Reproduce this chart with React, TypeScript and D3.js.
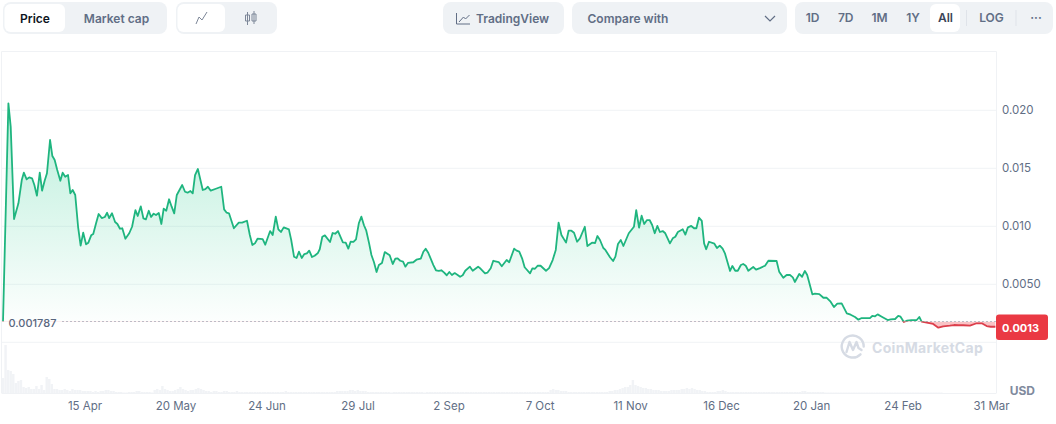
import * as d3 from "d3";
import { useEffect, useRef } from "react";

// days since the first sample
const days = [
  0, 2.1, 3, 4.3, 6, 7.3, 8.1, 9.2, 10.2, 11.3, 12.2, 13.2, 14.3, 15.2, 16.2, 17.1, 18.3, 19.2, 20.1, 21.1,
  22.3, 23.2, 24.2, 25.3, 26.2, 27.1, 28.1, 29.2, 30.2, 31.2, 32.3, 33.2, 34.3, 35.1, 36.2, 37.2, 38.4, 39.6, 40.5, 41.3,
  42.4, 43.6, 44.5, 45.5, 46.4, 47.6, 49.1, 50.2, 51.5, 52.4, 53.6, 54.6, 55.6, 56.7, 57.6, 58.6, 59.5, 60.6, 61.6, 62.5,
  63.5, 64.6, 65.6, 66.6, 67.6, 69.7, 70.8, 71.8, 72.9, 73.8, 74.7, 75.8, 77.7, 78.7, 79.7, 80.8, 82.8, 84.9, 86, 87,
  87.9, 89.8, 91.7, 93, 94.9, 96, 97, 98, 99, 101, 102, 103.9, 104.9, 106.1, 107.1, 108.1, 109.2, 111.2, 112.1, 113.2,
  114.2, 115.1, 116.2, 117.2, 118.2, 119.1, 120.2, 121.2, 122.4, 123.2, 124.2, 125.2, 127.2, 128.2, 129.2, 130.3, 132.2, 133.3, 134.3, 135.2,
  136.3, 137.3, 138.4, 139.4, 140.4, 141.3, 142.4, 143.3, 144.3, 145.3, 146.2, 147.4, 148.5, 150.4, 151.6, 152.6, 153.5, 154.5, 155.6, 156.5,
  157.5, 159.6, 160.8, 162.5, 163.5, 164.4, 165.4, 167.4, 168.4, 169.5, 170.5, 171.5, 172.6, 173.6, 174.6, 175.7, 176.7, 177.8, 178.8, 179.8,
  181.6, 182.7, 184.8, 185.8, 187.5, 188.4, 189.7, 190.7, 192.8, 194, 195.9, 196.9, 198.8, 199.8, 200.8, 201.9, 202.9, 205, 205.9, 206.9,
  208, 209.1, 211.2, 212.4, 213.8, 215, 216.1, 217.2, 219, 220, 221.1, 222.1, 223.3, 224.4, 226.3, 227.3, 229.1, 230.3, 231.2, 232.2,
  233.5, 234.3, 236.1, 237.3, 238.2, 239.2, 240.3, 241.3, 243.4, 245.4, 246.3, 247.4, 248.4, 249.4, 250.5, 251.5, 252.5, 253.5, 254.5, 255.5,
  256.6, 257.6, 259.4, 260.5, 261.5, 262.5, 264.4, 265.4, 266.4, 267.7, 268.8, 269.7, 270.7, 271.8, 272.7, 273.5, 274.6, 276.7, 277.7, 278.8,
  279.9, 280.8, 282.8, 283.7, 284.8, 285.8, 287, 287.9, 288.9, 289.9, 291.8, 292.9, 294.4, 296.4, 297.7, 300.9, 301.9, 303.5, 304.8, 306.1,
  307.2, 308, 309.7, 310.8, 311.9, 312.8, 314.8, 315.8, 317.5, 319.1, 320.4, 321.9, 323.2, 324.5, 326.2, 328.2, 329.7, 331.4, 332.7, 334,
  337.2, 338.1, 339.2, 340.2, 341.8, 344.1, 345.3, 347, 348.2, 349.1, 350.4, 351.5, 353.4, 355.4, 356.4, 357.3, 359.3, 361.8, 363.8, 365.7,
  368.3, 369.9, 371.6, 373.5, 376.1, 378.7, 380.7, 382.6, 384.2, 386,
];

const prices = [
  0.00179, 0.0206, 0.01858, 0.01063, 0.01198, 0.01399, 0.01462, 0.01405, 0.01422, 0.01414, 0.01356, 0.01264, 0.01462, 0.01307, 0.01393, 0.01457, 0.01744, 0.01606, 0.01571, 0.01485,
  0.01393, 0.01462, 0.01427, 0.01442, 0.01284, 0.01313, 0.0127, 0.00996, 0.00833, 0.00945, 0.00845, 0.00859, 0.00922, 0.00934, 0.01026, 0.01106, 0.01071, 0.0108, 0.01117, 0.01071,
  0.01112, 0.01037, 0.0102, 0.00979, 0.00983, 0.00893, 0.0094, 0.00996, 0.0114, 0.01089, 0.01172, 0.01069, 0.0106, 0.01134, 0.0108, 0.01109, 0.01097, 0.01115, 0.0102, 0.01152,
  0.01134, 0.01233, 0.01169, 0.01112, 0.0127, 0.01356, 0.01298, 0.0129, 0.01304, 0.01284, 0.01442, 0.01494, 0.01313, 0.01321, 0.01341, 0.01307, 0.01324, 0.01341, 0.01146, 0.01117,
  0.01112, 0.00983, 0.01031, 0.01031, 0.01048, 0.00925, 0.00839, 0.00853, 0.00893, 0.0089, 0.00841, 0.00959, 0.00925, 0.01083, 0.00974, 0.00951, 0.00991, 0.00974, 0.00882, 0.00738,
  0.00727, 0.00781, 0.00727, 0.00761, 0.00767, 0.0079, 0.00735, 0.00746, 0.00767, 0.00802, 0.0091, 0.00922, 0.00865, 0.00942, 0.00936, 0.00959, 0.00862, 0.00859, 0.00807, 0.00867,
  0.00865, 0.00888, 0.01026, 0.01083, 0.01009, 0.00962, 0.00853, 0.00753, 0.0069, 0.00606, 0.00666, 0.00684, 0.00778, 0.0075, 0.00675, 0.00721, 0.00724, 0.00703, 0.00695, 0.00652,
  0.00684, 0.0069, 0.00712, 0.00721, 0.00781, 0.00807, 0.00772, 0.00666, 0.00621, 0.00615, 0.00621, 0.00603, 0.00578, 0.00606, 0.0058, 0.00597, 0.00583, 0.00565, 0.00578, 0.00617,
  0.00652, 0.00617, 0.00652, 0.00634, 0.00595, 0.006, 0.00638, 0.00703, 0.00692, 0.00655, 0.00709, 0.0069, 0.00807, 0.0079, 0.00781, 0.00724, 0.00647, 0.00595, 0.00638, 0.00634,
  0.0066, 0.0066, 0.00617, 0.0064, 0.00709, 0.00796, 0.01031, 0.00925, 0.00859, 0.00962, 0.00962, 0.00945, 0.00867, 0.00896, 0.00996, 0.0083, 0.00859, 0.00856, 0.00916, 0.00882,
  0.00813, 0.00796, 0.00733, 0.00701, 0.00738, 0.00847, 0.00882, 0.0083, 0.0094, 0.00996, 0.0114, 0.00988, 0.01091, 0.0102, 0.01054, 0.01054, 0.01011, 0.0094, 0.01003, 0.00951,
  0.00959, 0.0094, 0.00853, 0.00896, 0.0091, 0.00951, 0.00974, 0.00928, 0.00991, 0.01003, 0.00983, 0.00983, 0.01074, 0.01046, 0.00853, 0.00802, 0.00867, 0.0085, 0.00813, 0.00833,
  0.00807, 0.00767, 0.00615, 0.00658, 0.00617, 0.00617, 0.00666, 0.00675, 0.0066, 0.00617, 0.00649, 0.00626, 0.0064, 0.0066, 0.00703, 0.00701, 0.00609, 0.00557, 0.0058, 0.0058,
  0.0056, 0.0052, 0.00589, 0.00565, 0.00615, 0.0058, 0.00414, 0.00419, 0.00416, 0.00384, 0.00384, 0.0035, 0.00304, 0.00333, 0.00336, 0.0025, 0.00238, 0.00218, 0.00195, 0.00209,
  0.00209, 0.00227, 0.00224, 0.00241, 0.00221, 0.00192, 0.00198, 0.00201, 0.00227, 0.00221, 0.00175, 0.00186, 0.00192, 0.00192, 0.00218, 0.00178, 0.00169, 0.00158, 0.00126, 0.00138,
  0.00143, 0.00149, 0.00147, 0.00147, 0.00143, 0.00164, 0.00164, 0.0014, 0.00134, 0.00134,
];

// daily volume, in the bottom panel
const volumes = [
  15, 48, 23, 22, 19, 10, 12, 13, 6, 5, 6, 4, 4, 7, 4, 8, 3, 16, 14, 9,
  4, 4, 3, 3, 4, 3, 2, 4, 3, 3, 3, 2, 2, 2, 2, 1, 2, 1, 2, 2,
  3, 3, 2, 2, 1, 1, 1, 0.5, 0.5, 1, 1, 1, 2, 2, 1, 1, 1, 1, 0.5, 3,
  4, 3, 7, 4, 3, 2, 2, 3, 4, 6, 4, 3, 2, 3, 3, 4, 5, 4, 3, 2,
  2, 1, 2, 2, 1, 1, 2, 2, 1, 1, 1, 2, 1, 1, 1, 1, 1, 1, 1, 1,
  1, 1, 1, 1, 1, 1, 1, 1, 1, 1, 2, 1, 1, 1, 1, 1, 1, 1, 1, 1,
  1, 1, 1, 1, 1, 1, 1, 1, 1, 1, 2, 2, 2, 2, 2, 3, 3, 2, 3, 2,
  2, 2, 1, 1, 1, 1, 1, 1, 1, 1, 1, 0.5, 1, 1, 1, 1, 1, 1, 1, 1,
  1, 1, 1, 1, 0.5, 1, 1, 1, 1, 1, 1, 1, 1, 1, 1, 1, 1, 1, 1, 1,
  1, 1, 1, 1, 1, 1, 1, 1, 1, 1, 1, 1, 1, 1, 1, 1, 1, 1, 1, 1,
  1, 1, 1, 1, 1, 1, 1, 1, 1, 1, 1, 1, 1, 3, 4, 3, 3, 2, 2, 2,
  1, 1, 1, 1, 1, 1, 1, 1, 1, 1, 1, 1, 1, 1, 1, 1, 2, 2, 3, 3,
  4, 5, 6, 6, 8, 13, 8, 7, 6, 5, 5, 4, 4, 3, 3, 3, 2, 2, 2, 2,
  3, 3, 3, 3, 4, 4, 5, 4, 5, 4, 3, 3, 2, 2, 1, 1, 1, 1, 2, 2,
  3, 2, 1, 1, 1, 1, 1, 1, 1, 1, 1, 1, 1, 1, 1, 1, 1, 1, 1, 1,
  1, 1, 1, 1, 1, 1, 1, 1, 1, 1, 1, 2, 2, 1, 1, 1, 1, 1, 1, 1,
  0.5, 0.5, 0.5, 0.5, 0.5, 0.5, 0.5, 0.5, 0.5, 0.5, 0.5, 0.5, 0.5, 0.5, 0.5, 0.5, 0.5, 0.5, 0.5, 0.5,
  0.5, 0.5, 0.5, 0.5, 0.5, 0.5, 0.5, 0.5, 0.5, 0.5, 0.5, 0.5, 0.5, 0.5, 0.5, 0.5, 0.5, 0.5, 0.5, 0.5,
  0.5, 0.5, 0.5, 0.5, 0.5, 0.5,
];

const tickDays = [31.7, 67.1, 102.5, 137.9, 173.3, 208.7, 243.9, 279.3, 314.3, 349.9, 384.3];
const tickLabels = ["15 Apr", "20 May", "24 Jun", "29 Jul", "2 Sep", "7 Oct", "11 Nov", "16 Dec", "20 Jan", "24 Feb", "31 Mar"];
const priceTicks = [0.02, 0.015, 0.01, 0.005];
const priceTickLabels = ["0.020", "0.015", "0.010", "0.0050"];
const basePrice = 0.001787;
const lastPriceLabel = "0.0013";

const rangeButtons = ["1D", "7D", "1M", "1Y", "All", "LOG", "···"];
const rangeCenters = [812.5, 845.7, 879.5, 913, 945.5, 991.5, 1036];

const width = 1056;
const height = 424;
const green = "#1fb57f";
const red = "#dc3e4b";
const gridColor = "#f1f3f6";
const pillColor = "#eff2f5";
const font = "Inter, sans-serif";

export default function App() {
  const svgRef = useRef<SVGSVGElement | null>(null);

  useEffect(() => {
    if (!svgRef.current) return;

    const svg = d3.select(svgRef.current);
    svg.selectAll("*").remove();
    svg.attr("width", width).attr("height", height).style("font-family", font);

    const xScale = d3.scaleLinear().domain([0, 386]).range([3, 995.4]);
    const yScale = d3.scaleLinear().domain([0, 0.02]).range([342.3, 110.3]);
    const volScale = d3.scaleLinear().domain([0, 48]).range([393, 345]);
    const baseY = yScale(basePrice);

    const series = days.map((d, i) => ({ day: d, price: prices[i] }));

    // toolbar
    const pill = (x: number, y: number, w: number, h: number, r: number, fill: string) =>
      svg.append("rect").attr("x", x).attr("y", y).attr("width", w).attr("height", h).attr("rx", r).attr("fill", fill);
    const label = (t: string, x: number, y: number, fill: string, size = 12, anchor = "middle", weight = 600) =>
      svg.append("text").attr("x", x).attr("y", y).attr("fill", fill).attr("font-size", size)
        .attr("font-weight", weight).attr("text-anchor", anchor).attr("dominant-baseline", "central").text(t);

    pill(3, 2, 164, 32, 8, pillColor);
    pill(4.5, 4, 60.5, 28, 6, "#fff");
    label("Price", 35, 18, "#0d1421");
    label("Market cap", 116.5, 18, "#616e85");

    pill(176, 2, 101, 32, 8, pillColor);
    pill(177.5, 4, 47.5, 28, 6, "#fff");
    svg.append("path").attr("d", "M196 24l3-7 3 3 5-8").attr("fill", "none").attr("stroke", "#7d8798").attr("stroke-width", 1);
    svg.append("path")
      .attr("d", "M247.5 12v13M245.5 15h4v6h-4zM254 11v13M252 14h4v7h-4z")
      .attr("fill", "none").attr("stroke", "#7d8798").attr("stroke-width", 1);

    pill(443, 2, 121, 32, 8, pillColor);
    svg.append("path").attr("d", "M456.5 13v11h13.5M459 22l4.5-5 2 2 4-4").attr("fill", "none").attr("stroke", "#616e85").attr("stroke-width", 1);
    label("TradingView", 476, 18, "#616e85", 12, "start");

    pill(572, 2, 215, 32, 8, pillColor);
    label("Compare with", 587.5, 18.5, "#616e85", 12, "start");
    svg.append("path").attr("d", "M765 16l5 5 5-5").attr("fill", "none").attr("stroke", "#616e85").attr("stroke-width", 1.2);

    pill(795, 2, 258, 32, 8, pillColor);
    pill(930, 4, 30, 28, 6, "#fff");
    rangeButtons.forEach((b, i) => {
      label(b, rangeCenters[i], 17.5, b === "All" ? "#3a4457" : "#616e85");
    });
    [966.5, 1016].forEach(x => {
      svg.append("line").attr("x1", x).attr("x2", x).attr("y1", 10).attr("y2", 26).attr("stroke", "#dfe3e9");
    });

    // chart frame
    svg.append("path")
      .attr("d", `M1.5 393V51.5H996.5V393`)
      .attr("fill", "none").attr("stroke", "#f0f2f5");

    // grid
    svg.append("g").selectAll("line")
      .data([...priceTicks, 0])
      .enter()
      .append("line")
      .attr("x1", 1.5)
      .attr("x2", 996.5)
      .attr("y1", d => yScale(d))
      .attr("y2", d => yScale(d))
      .attr("stroke", gridColor);

    // volume bars
    svg.append("g").selectAll("rect")
      .data(volumes)
      .enter()
      .append("rect")
      .attr("x", (_, i) => xScale(i) - 1.2)
      .attr("y", d => volScale(d))
      .attr("width", 2.4)
      .attr("height", d => 393 - volScale(d))
      .attr("fill", "#f1f3f6");
    svg.append("line").attr("x1", 1.5).attr("x2", 996.5).attr("y1", 393.5).attr("y2", 393.5).attr("stroke", "#f0f2f5");

    // gradient + clip above / below the opening price
    const defs = svg.append("defs");
    const grad = defs.append("linearGradient").attr("id", "greenFill")
      .attr("gradientUnits", "userSpaceOnUse")
      .attr("x1", 0).attr("x2", 0).attr("y1", yScale(0.0206)).attr("y2", baseY);
    grad.append("stop").attr("offset", 0).attr("stop-color", "#16c784").attr("stop-opacity", 0.3);
    grad.append("stop").attr("offset", 1).attr("stop-color", "#16c784").attr("stop-opacity", 0.01);
    defs.append("clipPath").attr("id", "aboveBase").append("rect")
      .attr("x", 0).attr("y", 0).attr("width", width).attr("height", baseY);
    defs.append("clipPath").attr("id", "belowBase").append("rect")
      .attr("x", 0).attr("y", baseY).attr("width", width).attr("height", height - baseY);

    const area = d3.area<{ day: number; price: number }>()
      .x(d => xScale(d.day))
      .y0(baseY)
      .y1(d => yScale(d.price));
    const line = d3.line<{ day: number; price: number }>()
      .x(d => xScale(d.day))
      .y(d => yScale(d.price));

    svg.append("path").attr("d", area(series)).attr("fill", "url(#greenFill)").attr("clip-path", "url(#aboveBase)");
    svg.append("path").attr("d", area(series)).attr("fill", "#ea3943").attr("fill-opacity", 0.3).attr("clip-path", "url(#belowBase)");

    // dotted opening price, snapped to the pixel grid so the dots stay crisp
    const dotY = Math.floor(baseY) + 0.5;
    svg.append("line")
      .attr("x1", 62.5).attr("x2", 996).attr("y1", dotY).attr("y2", dotY)
      .attr("stroke", "#7d8798").attr("stroke-width", 1).attr("stroke-dasharray", "1 3");
    label("0.001787", 8.5, baseY + 1.5, "#58667e", 11, "start", 500);

    svg.append("path").attr("d", line(series)).attr("fill", "none").attr("stroke", green).attr("stroke-width", 1.8).attr("stroke-linejoin", "round").attr("clip-path", "url(#aboveBase)");
    svg.append("path").attr("d", line(series)).attr("fill", "none").attr("stroke", red).attr("stroke-width", 1.8).attr("stroke-linejoin", "round").attr("clip-path", "url(#belowBase)");

    // y axis
    const yAxis = svg.append("g")
      .attr("transform", "translate(999,0)")
      .call(d3.axisRight(yScale).tickValues(priceTicks).tickSize(0).tickPadding(3)
        .tickFormat((_, i) => priceTickLabels[i]));
    yAxis.select(".domain").remove();
    yAxis.selectAll("text").attr("fill", "#616e85").attr("font-size", 11.5).attr("font-family", font);

    // x axis
    const xAxis = svg.append("g")
      .attr("transform", "translate(0,399)")
      .call(d3.axisBottom(xScale).tickValues(tickDays).tickSize(0).tickPadding(3)
        .tickFormat((_, i) => tickLabels[i]));
    xAxis.select(".domain").remove();
    xAxis.selectAll("text").attr("fill", "#616e85").attr("font-size", 11.5).attr("font-family", font);

    // last price tag
    pill(996, 314.5, 52, 25.5, 3, "#ea3943");
    label(lastPriceLabel, 1002, 327.5, "#fff", 11, "start", 700);

    label("USD", 1035, 390, "#808a9d", 12, "end", 700);

    // watermark
    const mark = svg.append("g").attr("fill", "none").attr("stroke", "#d6dbe4").attr("stroke-width", 2.4).attr("stroke-linecap", "round").attr("stroke-linejoin", "round");
    mark.append("path").attr("d", "M863.7 346.5a11 11 0 1 0-3.2 7.8");
    mark.append("path").attr("d", "M846.5 352l3-10 3.5 8 3.5-8 2 6 3 2");
    label("CoinMarketCap", 872, 347.5, "#d6dbe4", 14, "start", 700).attr("letter-spacing", 0.3);
  }, []);

  return <svg ref={svgRef} style={{ position: "absolute", left: 0, top: 0 }}></svg>;
}
